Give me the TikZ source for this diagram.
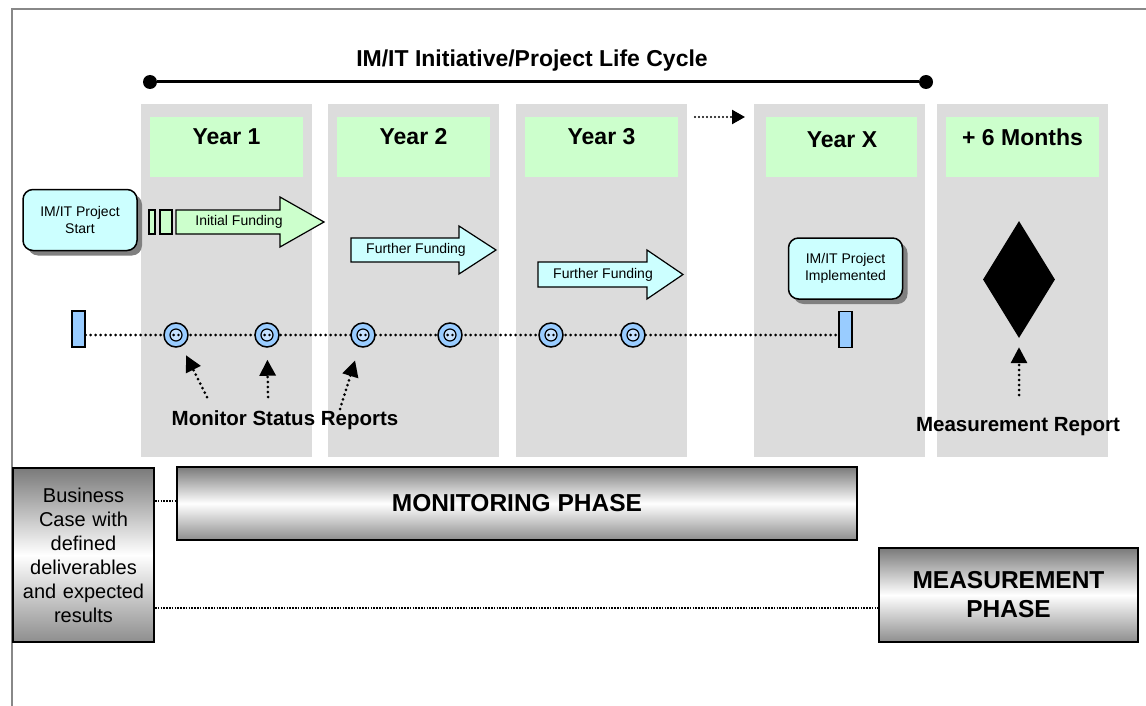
\documentclass[tikz,border=0pt]{standalone}
\usepackage{fontspec}
\setmainfont{Liberation Sans}
\usetikzlibrary{arrows.meta,shapes.geometric,shadows}

\definecolor{colgray}{HTML}{DCDCDC}
\definecolor{lgreen}{HTML}{CCFFCC}
\definecolor{lcyan}{HTML}{CCFFFF}
\definecolor{lblue}{HTML}{99CCFF}
\definecolor{innerblue}{HTML}{C6E2FF}
\definecolor{framegray}{HTML}{888888}
\definecolor{shadowgray}{HTML}{808080}
\definecolor{shadetop}{HTML}{7A7A7A}
\definecolor{shadebot}{HTML}{8E8E8E}

\begin{document}
\begin{tikzpicture}[x=1pt,y=-1pt,
  column/.style={fill=colgray,draw=none},
  yearbox/.style={fill=lgreen,draw=none},
  yearlbl/.style={font=\fontsize{23}{27}\selectfont\bfseries},
  boldlbl/.style={font=\fontsize{20.5}{24}\selectfont\bfseries},
  smalllbl/.style={font=\fontsize{14}{17}\selectfont,align=center},
  roundbox/.style={draw,line width=1.5pt,rounded corners=10pt,fill=lcyan,
    minimum width=114pt,minimum height=61pt,inner sep=0pt,align=center,
    font=\fontsize{14}{17}\selectfont,
    drop shadow={shadow xshift=5pt,shadow yshift=-5pt,fill=shadowgray,opacity=1}},
  fundarrow/.style={draw,line width=1.2pt,line join=miter},
  marker/.style={draw,line width=1.4pt,fill=lblue,minimum width=13pt,minimum height=36pt,inner sep=0pt},
  mile/.style={circle,draw,line width=1.5pt,fill=lblue,minimum size=24pt,inner sep=0pt},
  lcdot/.style={circle,fill=black,minimum size=14pt,inner sep=0pt},
  thickdots/.style={line width=3pt,line cap=round,dash pattern=on 0pt off 5pt},
  thindots/.style={line width=1.6pt,dash pattern=on 1.6pt off 1.2pt},
  pointer/.style={thickdots,-{Triangle[length=16pt,width=16pt]}},
  phasebox/.style={draw,line width=2pt,top color=shadetop,bottom color=shadebot,middle color=white,
    inner sep=0pt,align=center}
]
\useasboundingbox (0,0) rectangle (1146,706);

% outer frame (top and left edges)
\draw[framegray,line width=2pt] (12,706) -- (12,9) -- (1146,9);

% life cycle bar
\node[font=\fontsize{23}{27}\selectfont\bfseries] (title) at (532,61) {IM/IT Initiative/Project Life Cycle};
\node[lcdot] (lcA) at (150,82) {};
\node[lcdot] (lcB) at (926,82) {};
\draw[line width=3pt] (lcA) -- (lcB);

% year columns
\foreach \n/\x in {c1/141,c2/328,c3/516,c4/754,c5/937}{
  \fill[column] (\x,104) rectangle ++(171,353);
}
\foreach \n/\x/\t in {y1/141/{Year 1},y2/328/{Year 2},y3/516/{Year 3},y5/937/{+ 6 Months}}{
  \fill[yearbox] (\x+9,117) rectangle ++(153,60);
  \node[yearlbl] (\n) at (\x+85.5,137) {\t};
}
\fill[yearbox] (754+12,117) rectangle ++(151,60);
\node[yearlbl] (yX) at (754+88,140) {Year X};

% skipped years
\coordinate (skipA) at (695,117);
\coordinate (skipB) at (745,117);
\draw[line width=2.4pt,line cap=round,dash pattern=on 0pt off 4pt,-{Triangle[length=13pt,width=14pt]}] (skipA) -- (skipB);

% project start
\node[roundbox] (start) at (80,220) {IM/IT Project\\Start};

% funding arrows
\draw[fill=lgreen,line width=1.2pt] (149,210) rectangle (155,234);
\draw[fill=lgreen,line width=1.2pt] (160,210) rectangle (172,234);
\draw[fundarrow,fill=lgreen] (176,210) -- (280,210) -- (280,197) -- (324,222) -- (280,247) -- (280,234) -- (176,234) -- cycle;
\node[smalllbl] (fund1) at (239,222) {Initial Funding};
\draw[fundarrow,fill=lcyan] (351,238) -- (459,238) -- (459,226) -- (496,250) -- (459,274) -- (459,262) -- (351,262) -- cycle;
\node[smalllbl] (fund2) at (416,250) {Further Funding};
\draw[fundarrow,fill=lcyan] (538,262) -- (647,262) -- (647,250) -- (683,274.5) -- (647,299) -- (647,287) -- (538,287) -- cycle;
\node[smalllbl] (fund3) at (603,274.5) {Further Funding};

% project implemented
\node[roundbox] (impl) at (845.5,268.5) {IM/IT Project\\Implemented};

% timeline
\node[marker] (tStart) at (78.5,329) {};
\node[marker] (tEnd) at (845.5,329.5) {};
\draw[thickdots] (tStart.east |- 0,335) -- (tEnd.west |- 0,335);
\foreach \i/\x in {1/176,2/267,3/363,4/450,5/551,6/633}{
  \node[mile] (m\i) at (\x,335) {};
  \draw[line width=1.2pt,fill=innerblue] (m\i.center) circle[radius=6pt];
  \fill (m\i.center) ++(-2.4,0) circle[radius=1.4pt];
  \fill (m\i.center) ++(2.4,0) circle[radius=1.4pt];
}

% status report pointers
\coordinate (pA) at (207,397);
\coordinate (pB) at (268,397);
\coordinate (pC) at (340,409);
\draw[pointer,shorten >=10pt] (pA) -- (m1);
\draw[pointer,shorten >=12pt] (pB) -- (m2);
\draw[pointer,shorten >=14pt] (pC) -- (m3);
\node[boldlbl] (msr) at (285,420) {Monitor Status Reports};

% post-implementation measurement
\node[diamond,fill=black,minimum width=72pt,minimum height=117pt,inner sep=0pt] (gate) at (1019,279.5) {};
\coordinate (pD) at (1019,395);
\draw[pointer,shorten >=9pt] (pD) -- (gate.south);
\node[boldlbl] (mrep) at (1018,427) {Measurement Report};

% phases
\node[phasebox,minimum width=141pt,minimum height=174pt,text width=141pt,
  font=\fontsize{20}{24}\selectfont] (bcase) at (83.5,555)
  {Business\\Case with\\defined\\deliverables\\and expected\\results};
\node[phasebox,minimum width=680pt,minimum height=73pt,
  font=\fontsize{24.5}{29}\selectfont\bfseries] (mon) at (517,503.5) {MONITORING PHASE};
\node[phasebox,minimum width=259pt,minimum height=94pt,
  font=\fontsize{24.5}{29}\selectfont\bfseries] (meas) at (1008.5,595) {MEASUREMENT\\PHASE};
\draw[thindots] (bcase.east |- 0,501) -- (mon.west |- 0,501);
\draw[thindots] (bcase.east |- 0,608) -- (meas.west |- 0,608);
\end{tikzpicture}
\end{document}
